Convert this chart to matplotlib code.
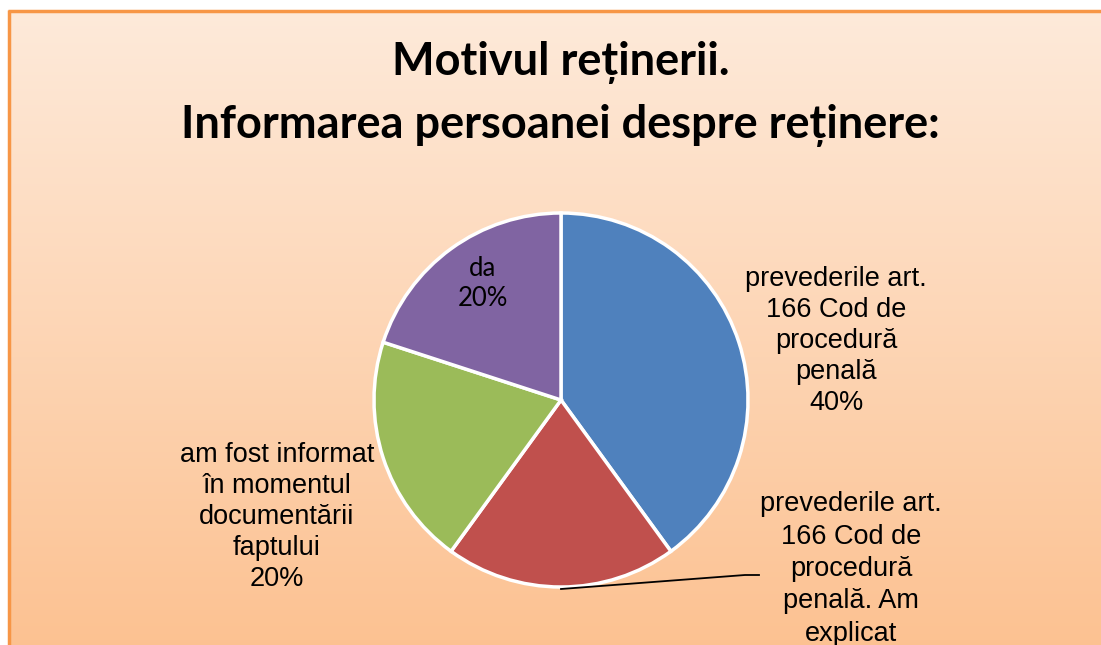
import matplotlib.pyplot as plt
import numpy as np

W, H = 1101, 645

categories = [
    'prevederile art.\n166 Cod de\nprocedură\npenală',
    'prevederile art.\n166 Cod de\nprocedură\npenală. Am\nexplicat',
    'am fost informat\nîn momentul\ndocumentării\nfaptului',
    'da',
]
values = [40, 20, 20, 20]
colors = ['#4F81BD', '#C0504D', '#9BBB59', '#8064A2']
title = 'Motivul reținerii.\nInformarea persoanei despre reținere:'

fig = plt.figure(figsize=(W / 100, H / 100), dpi=100, facecolor='white')
# axes a bit larger than the figure so nothing is drawn at the right edge
pad = 0.05
ax = fig.add_axes([-pad, -pad, 1 + 2 * pad, 1 + 2 * pad])

# peach gradient inside the chart frame
top = np.array([254, 234, 218]) / 255
bot = np.array([252, 190, 139]) / 255
t = np.linspace(0, 1, 256)[:, None, None]
grad = np.repeat(top * (1 - t) + bot * t, 8, axis=1)
frame_left, frame_top = 9, 11
ax.imshow(grad, extent=(frame_left, W + 60, -60, H - frame_top), aspect='auto',
          zorder=0, interpolation='nearest')
ax.plot([frame_left, frame_left], [-60, H - frame_top + 1.2],
        color='#F79646', lw=2.5, zorder=1, solid_capstyle='butt')
ax.plot([frame_left - 1.2, W + 60], [H - frame_top, H - frame_top],
        color='#F79646', lw=2.5, zorder=1, solid_capstyle='butt')

# pie, center and radius in pixel units
cx, cy, R = 561, H - 400, 187
wedges, _ = ax.pie(values, colors=colors, startangle=90, counterclock=False,
                   center=(cx, cy), radius=R, frame=True,
                   wedgeprops=dict(edgecolor='white', linewidth=2.5))
for w in wedges:
    w.set_zorder(2)

ax.set_xlim(-pad * W, (1 + pad) * W)
ax.set_ylim(-pad * H, (1 + pad) * H)
ax.set_aspect('equal')
ax.axis('off')

ax.text(W / 2 + 10, H - 94, title, ha='center', va='center', fontsize=32.5,
        fontweight='bold', family='Lato', linespacing=1.6)

pcts = [f'{v}%' for v in values]
lab_kw = dict(ha='center', va='center', fontsize=19.5, family='Liberation Sans',
              zorder=3)

# label positions (pixels from top-left)
ax.text(836, H - 341, categories[0] + '\n' + pcts[0], linespacing=1.26, **lab_kw)
ax.text(851, H - 569, categories[1], linespacing=1.32, **lab_kw)
ax.text(277, H - 517, categories[2] + '\n' + pcts[2], linespacing=1.24, **lab_kw)
ax.text(483, H - 283, categories[3] + '\n' + pcts[3], ha='center', va='center',
        fontsize=18.5, family='Lato', linespacing=1.25, zorder=3)

# leader line from the red wedge edge to its label
w = wedges[1]
mid = np.deg2rad((w.theta1 + w.theta2) / 2)
x0, y0 = cx + R * np.cos(mid), cy + R * np.sin(mid)
ax.plot([x0, 745, 759], [y0 - 2, H - 575, H - 575], color='black', lw=1.3, zorder=3)

fig.savefig('out.png', dpi=100, facecolor='white')
